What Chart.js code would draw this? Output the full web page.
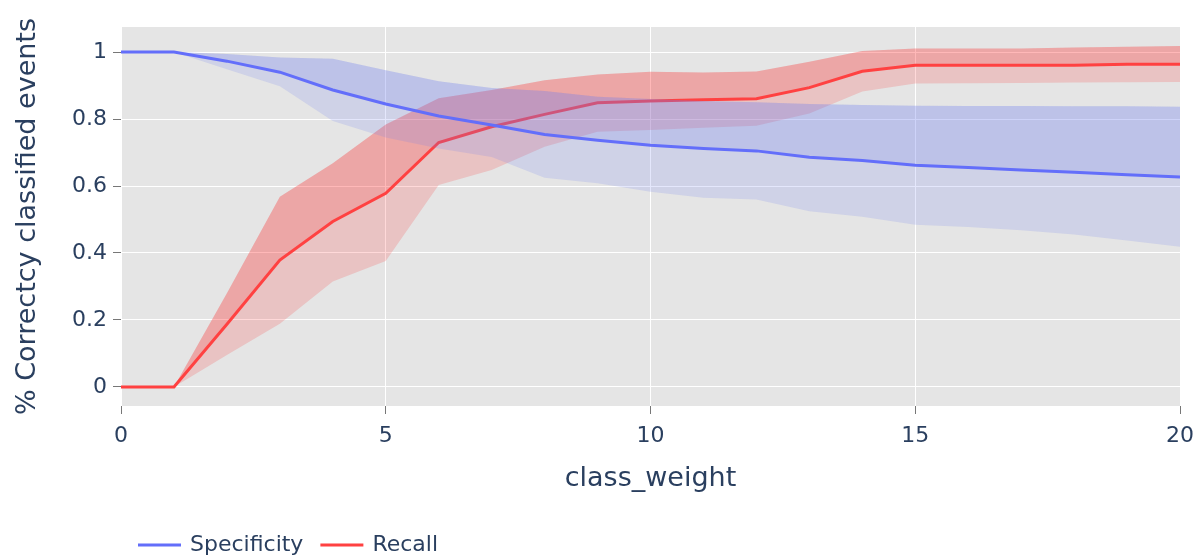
<!DOCTYPE html>
<html>
<head>
<meta charset="utf-8">
<script src="https://cdn.jsdelivr.net/npm/chart.js@4.4.1/dist/chart.umd.min.js"></script>
<style>
  body { margin: 0; background: #fff; }
  #wrap { width: 1203px; height: 559px; }
</style>
</head>
<body>
<div id="wrap"><canvas id="classWeightChart"></canvas></div>
<script>
// class_weight values on the x axis
const classWeights = [0, 1, 2, 3, 4, 5, 6, 7, 8, 9, 10, 11, 12, 13, 14, 15, 16, 17, 18, 19, 20];

// Specificity mean and its band
const specificity      = [1, 1, 0.973, 0.940, 0.887, 0.845, 0.809, 0.782, 0.754, 0.737, 0.722, 0.712, 0.705, 0.686, 0.676, 0.662, 0.655, 0.648, 0.641, 0.634, 0.627];
const specificityUpper = [1, 1, 0.994, 0.984, 0.980, 0.946, 0.913, 0.893, 0.884, 0.867, 0.860, 0.854, 0.850, 0.845, 0.842, 0.840, 0.839, 0.839, 0.838, 0.838, 0.837];
const specificityLower = [1, 1, 0.949, 0.898, 0.794, 0.745, 0.712, 0.687, 0.625, 0.608, 0.583, 0.565, 0.560, 0.525, 0.508, 0.484, 0.478, 0.468, 0.455, 0.437, 0.419];

// Recall mean and its band
const recall      = [0, 0, 0.187, 0.379, 0.494, 0.578, 0.730, 0.777, 0.814, 0.849, 0.854, 0.858, 0.861, 0.894, 0.943, 0.961, 0.961, 0.961, 0.961, 0.964, 0.964];
const recallUpper = [0, 0, 0.280, 0.568, 0.668, 0.784, 0.862, 0.887, 0.916, 0.933, 0.941, 0.939, 0.942, 0.971, 1.003, 1.011, 1.011, 1.011, 1.014, 1.016, 1.018];
const recallLower = [0, 0, 0.095, 0.189, 0.315, 0.376, 0.603, 0.648, 0.717, 0.762, 0.767, 0.774, 0.780, 0.817, 0.882, 0.906, 0.907, 0.908, 0.909, 0.910, 0.911];

// tick labels
const xTicks = [0, 5, 10, 15, 20];
const yTicks = [0, 0.2, 0.4, 0.6, 0.8, 1];
const yTickLabels = ['0', '0.2', '0.4', '0.6', '0.8', '1'];

const blue = '#636efa';
const red = '#ff4141';
const blueFill = 'rgba(110, 125, 240, 0.19)';
const redFill = 'rgba(255, 0, 0, 0.15)';
const textColor = '#2a3f5f';
const fontFamily = "'DejaVu Sans', Verdana, sans-serif";

const toPoints = (ys) => ys.map((y, i) => ({ x: classWeights[i], y: y }));

const lineStyle = { pointRadius: 0, pointHoverRadius: 0, tension: 0 };

// blue drawn on top of red, mean lines on top of their own bands
const datasets = [
    { ...lineStyle, label: 'Specificity', data: toPoints(specificity), borderColor: blue, borderWidth: 3, fill: '+1', backgroundColor: blueFill, inLegend: true },
    { ...lineStyle, label: 'spec_upper', data: toPoints(specificityUpper), borderWidth: 0, borderColor: 'transparent', fill: '+1', backgroundColor: blueFill },
    { ...lineStyle, label: 'spec_lower', data: toPoints(specificityLower), borderWidth: 0, borderColor: 'transparent', fill: false },
    { ...lineStyle, label: 'Recall', data: toPoints(recall), borderColor: red, borderWidth: 3, fill: '+1', backgroundColor: redFill, inLegend: true },
    { ...lineStyle, label: 'recall_upper', data: toPoints(recallUpper), borderWidth: 0, borderColor: 'transparent', fill: '+1', backgroundColor: redFill },
    { ...lineStyle, label: 'recall_lower', data: toPoints(recallLower), borderWidth: 0, borderColor: 'transparent', fill: false },
];

const plotBackground = {
    id: 'plotBackground',
    beforeDraw(chart) {
        const { ctx, chartArea } = chart;
        ctx.save();
        ctx.fillStyle = '#e5e5e5';
        ctx.fillRect(chartArea.left, chartArea.top, chartArea.right - chartArea.left, chartArea.bottom - chartArea.top);
        ctx.restore();
    }
};

// plotly-like legend, bottom left
const bottomLegend = {
    id: 'bottomLegend',
    afterDraw(chart) {
        const ctx = chart.ctx;
        let x = 138;
        const y = 545;
        ctx.save();
        ctx.font = '22px ' + fontFamily;
        ctx.textBaseline = 'middle';
        chart.data.datasets.filter(d => d.inLegend).forEach(d => {
            ctx.strokeStyle = d.borderColor;
            ctx.lineWidth = 3;
            ctx.beginPath();
            ctx.moveTo(x, y);
            ctx.lineTo(x + 43, y);
            ctx.stroke();
            ctx.fillStyle = textColor;
            ctx.fillText(d.label, x + 52, y);
            x += 52 + ctx.measureText(d.label).width + 17;
        });
        ctx.restore();
    }
};

new Chart(document.getElementById('classWeightChart'), {
    type: 'line',
    data: { datasets: datasets },
    plugins: [plotBackground, bottomLegend],
    options: {
        responsive: true,
        maintainAspectRatio: false,
        animation: false,
        layout: { padding: { top: 27, right: 22, left: 0, bottom: 0 } },
        plugins: {
            legend: { display: false },
            tooltip: { enabled: false }
        },
        scales: {
            x: {
                type: 'linear',
                min: 0,
                max: 20,
                afterBuildTicks: (axis) => { axis.ticks = xTicks.map(v => ({ value: v })); },
                afterFit: (axis) => { axis.height = 153; },
                grid: { color: '#ffffff', lineWidth: 1, tickColor: '#777', tickLength: 8 },
                border: { display: false },
                ticks: { color: textColor, font: { family: fontFamily, size: 22 }, padding: 9, maxRotation: 0 },
                title: {
                    display: true,
                    text: 'class_weight',
                    color: textColor,
                    font: { family: fontFamily, size: 27 },
                    padding: { top: 0, bottom: 64 }
                }
            },
            y: {
                type: 'linear',
                min: -0.057,
                max: 1.075,
                afterBuildTicks: (axis) => { axis.ticks = yTicks.map(v => ({ value: v })); },
                afterFit: (axis) => { axis.width = 121; },
                grid: { color: '#ffffff', lineWidth: 1, tickColor: '#777', tickLength: 8 },
                border: { display: false },
                ticks: {
                    color: textColor,
                    font: { family: fontFamily, size: 22 },
                    padding: 6,
                    callback: (value, index) => yTickLabels[index]
                },
                title: {
                    display: true,
                    text: '% Correctcy classified events',
                    color: textColor,
                    font: { family: fontFamily, size: 27 },
                    padding: { top: 12, bottom: 0 }
                }
            }
        }
    }
});
</script>
</body>
</html>
